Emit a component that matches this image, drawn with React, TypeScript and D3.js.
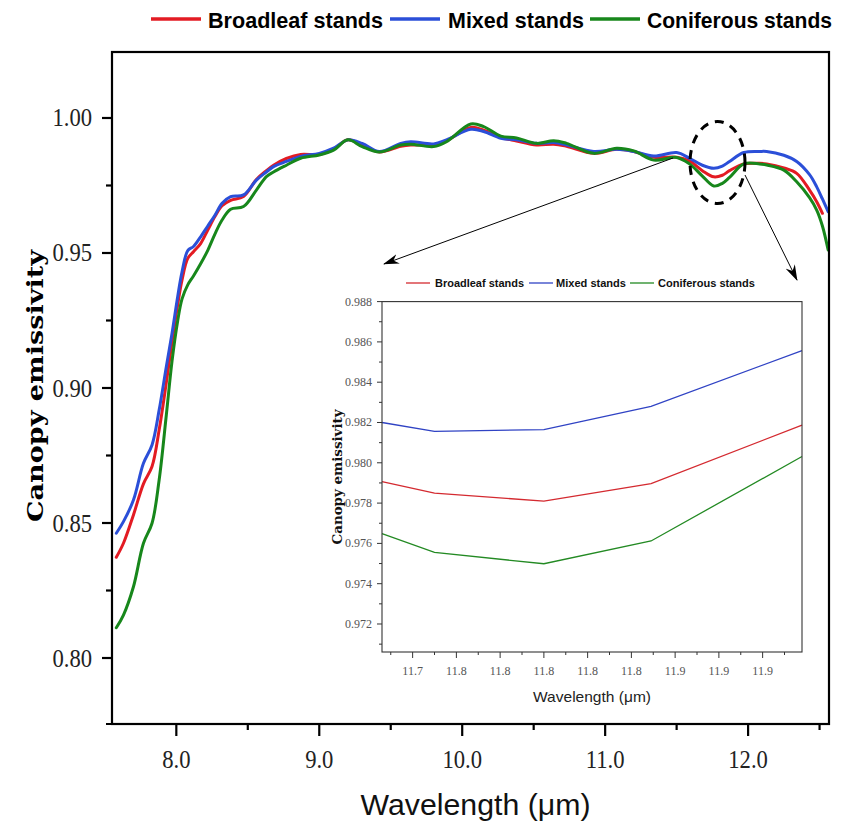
import React from "react";
import * as d3 from "d3";

// ---------- data ----------
const wavelength = [7.58, 7.63, 7.70, 7.77, 7.83, 7.88, 7.93, 7.97, 8.01, 8.04, 8.08, 8.12, 8.17, 8.22, 8.27, 8.32, 8.38, 8.47, 8.56, 8.63, 8.68, 8.77, 8.87, 9.00, 9.10, 9.20, 9.30, 9.42, 9.57, 9.64, 9.80, 9.89, 10.06, 10.15, 10.27, 10.38, 10.52, 10.64, 10.73, 10.92, 11.08, 11.20, 11.34, 11.50, 11.59, 11.68, 11.76, 11.82, 11.87, 11.97, 12.08, 12.13, 12.25, 12.34, 12.43, 12.48, 12.52, 12.56];
const mixed = [0.8462, 0.8505, 0.8585, 0.8721, 0.8789, 0.8919, 0.9079, 0.9203, 0.9340, 0.9430, 0.9509, 0.9524, 0.9560, 0.9600, 0.9640, 0.9684, 0.9709, 0.9715, 0.9770, 0.9800, 0.9820, 0.9839, 0.9858, 0.9869, 0.9888, 0.9919, 0.9906, 0.9876, 0.9906, 0.9912, 0.9904, 0.9919, 0.9958, 0.9950, 0.9925, 0.9919, 0.9906, 0.9909, 0.9900, 0.9876, 0.9884, 0.9876, 0.9859, 0.9872, 0.9851, 0.9825, 0.9814, 0.9822, 0.9839, 0.9872, 0.9876, 0.9876, 0.9862, 0.9839, 0.9790, 0.9745, 0.9700, 0.9653];
const broadleaf = [0.8373, 0.8425, 0.8530, 0.8645, 0.8709, 0.8845, 0.9020, 0.9170, 0.9310, 0.9400, 0.9480, 0.9505, 0.9535, 0.9585, 0.9635, 0.9675, 0.9695, 0.9709, 0.9772, 0.9805, 0.9825, 0.9850, 0.9865, 0.9865, 0.9885, 0.9919, 0.9900, 0.9874, 0.9895, 0.9900, 0.9900, 0.9915, 0.9965, 0.9955, 0.9928, 0.9915, 0.9900, 0.9903, 0.9895, 0.9869, 0.9884, 0.9876, 0.9855, 0.9855, 0.9841, 0.9805, 0.9782, 0.9788, 0.9805, 0.9830, 0.9832, 0.9830, 0.9815, 0.9795, 0.9733, 0.9690, 0.9647, null];
const coniferous = [0.8112, 0.8159, 0.8264, 0.8425, 0.8499, 0.8660, 0.8900, 0.9100, 0.9250, 0.9330, 0.9382, 0.9415, 0.9460, 0.9510, 0.9570, 0.9622, 0.9662, 0.9672, 0.9733, 0.9783, 0.9800, 0.9825, 0.9851, 0.9863, 0.9881, 0.9919, 0.9894, 0.9874, 0.9900, 0.9903, 0.9894, 0.9912, 0.9978, 0.9968, 0.9933, 0.9926, 0.9906, 0.9916, 0.9906, 0.9869, 0.9888, 0.9878, 0.9844, 0.9854, 0.9830, 0.9785, 0.9748, 0.9758, 0.9780, 0.9830, 0.9830, 0.9826, 0.9807, 0.9764, 0.9705, 0.9659, 0.9600, 0.9511];

const insetWavelength = [11.726, 11.750, 11.800, 11.849, 11.918];
const insetBroadleaf = [0.97907, 0.97849, 0.97810, 0.97897, 0.98187];
const insetMixed = [0.98200, 0.98156, 0.98165, 0.98280, 0.98557];
const insetConiferous = [0.97648, 0.97555, 0.97499, 0.97612, 0.98031];

const seriesNames = ["Broadleaf stands", "Mixed stands", "Coniferous stands"];
const seriesColors = ["#e31b23", "#2b4fd8", "#17871b"];
const insetColors = ["#d42a30", "#3043c4", "#238a23"];

const xTicks = [8, 9, 10, 11, 12];
const xTickLabels = ["8.0", "9.0", "10.0", "11.0", "12.0"];
const xMinorTicks = [8.5, 9.5, 10.5, 11.5, 12.5];
const yTicks = [0.8, 0.85, 0.9, 0.95, 1.0];
const yTickLabels = ["0.80", "0.85", "0.90", "0.95", "1.00"];
const yMinorTicks = [0.825, 0.875, 0.925, 0.975];

const insetXTicks = [11.74, 11.76, 11.78, 11.80, 11.82, 11.84, 11.86, 11.88, 11.90];
const insetXTickLabels = ["11.7", "11.8", "11.8", "11.8", "11.8", "11.8", "11.9", "11.9", "11.9"];
const insetXMinorTicks = [11.73, 11.75, 11.77, 11.79, 11.81, 11.83, 11.85, 11.87, 11.89, 11.91];
const insetYTicks = [0.972, 0.974, 0.976, 0.978, 0.98, 0.982, 0.984, 0.986, 0.988];
const insetYTickLabels = ["0.972", "0.974", "0.976", "0.978", "0.980", "0.982", "0.984", "0.986", "0.988"];
const insetYMinorTicks = [0.971, 0.973, 0.975, 0.977, 0.979, 0.981, 0.983, 0.985, 0.987];

// ---------- layout ----------
const W = 846, H = 832;
const M = { left: 112, right: 829, top: 52, bottom: 724 };
const I = { left: 382, right: 802, top: 301.6, bottom: 652 };

const SERIF = "'Liberation Serif', 'Times New Roman', serif";
const SANS = "'Liberation Sans', Arial, sans-serif";

export default function App() {
  const x = d3.scaleLinear().domain([7.55, 12.566]).range([M.left, M.right]);
  const y = d3.scaleLinear().domain([0.77556, 1.02444]).range([M.bottom, M.top]);
  const ix = d3.scaleLinear().domain([11.726, 11.918]).range([I.left, I.right]);
  const iy = d3.scaleLinear().domain([0.97061, 0.988]).range([I.bottom, I.top]);

  const mainSeries = [broadleaf, mixed, coniferous];
  const insetSeries = [insetBroadleaf, insetMixed, insetConiferous];

  const line = d3
    .line<number>()
    .defined((d) => d !== null)
    .x((_, i) => x(wavelength[i]))
    .y((d) => y(d as number))
    .curve(d3.curveCatmullRom.alpha(0.5));

  const iline = d3
    .line<number>()
    .x((_, i) => ix(insetWavelength[i]))
    .y((d) => iy(d));

  const legendItems = [
    { lx: 151, tx: 208, tl: 175 },
    { lx: 390, tx: 448, tl: 136 },
    { lx: 590, tx: 647, tl: 185 },
  ];
  const insetLegend = [
    { lx: 406, tx: 435, tl: 89 },
    { lx: 529, tx: 556, tl: 70 },
    { lx: 630, tx: 658, tl: 97 },
  ];

  return (
    <svg
      width={W}
      height={H}
      viewBox={`0 0 ${W} ${H}`}
      style={{ position: "absolute", left: 0, top: 0, background: "#fff" }}
    >
      <defs>
        <marker
          id="arrow"
          viewBox="0 0 16 10"
          refX="15"
          refY="5"
          markerWidth="16"
          markerHeight="10"
          markerUnits="userSpaceOnUse"
          orient="auto"
        >
          <path d="M0,0 L16,5 L0,10 L5,5 Z" fill="#000" />
        </marker>
      </defs>
      <rect x={0} y={0} width={W} height={H} fill="#fff" />

      {/* top legend */}
      {legendItems.map((it, i) => (
        <g key={i}>
          <line x1={it.lx} x2={it.lx + 50} y1={19} y2={19} stroke={seriesColors[i]} strokeWidth={3.5} />
          <text
            x={it.tx}
            y={27.5}
            fontFamily={SANS}
            fontWeight="bold"
            fontSize={22.5}
            textLength={it.tl}
            lengthAdjust="spacingAndGlyphs"
            fill="#000"
          >
            {seriesNames[i]}
          </text>
        </g>
      ))}

      {/* main curves */}
      <g fill="none" strokeWidth={3} strokeLinejoin="round" strokeLinecap="round">
        {mainSeries.map((s, k) => (
          <path key={k} d={line(s as any) || ""} stroke={seriesColors[k]} />
        ))}
      </g>

      {/* main frame */}
      <rect
        x={M.left}
        y={M.top}
        width={M.right - M.left}
        height={M.bottom - M.top}
        fill="none"
        stroke="#000"
        strokeWidth={2.2}
      />
      <line x1={106} x2={M.right} y1={M.bottom} y2={M.bottom} stroke="#000" strokeWidth={2.2} />

      {/* x axis ticks */}
      {xTicks.map((t, i) => (
        <g key={"xt" + i}>
          <line x1={x(t)} x2={x(t)} y1={M.bottom} y2={M.bottom + 12} stroke="#000" strokeWidth={2.2} />
          <text
            transform={`translate(${x(t)},768) scale(0.87,1)`}
            textAnchor="middle"
            fontFamily={SERIF}
            fontSize={26}
            fill="#222"
          >
            {xTickLabels[i]}
          </text>
        </g>
      ))}
      {xMinorTicks.map((t, i) => (
        <line key={"xm" + i} x1={x(t)} x2={x(t)} y1={M.bottom} y2={M.bottom + 6} stroke="#000" strokeWidth={2.2} />
      ))}

      {/* y axis ticks */}
      {yTicks.map((t, i) => (
        <g key={"yt" + i}>
          <line x1={M.left - 10} x2={M.left} y1={y(t)} y2={y(t)} stroke="#000" strokeWidth={2.2} />
          <text
            transform={`translate(92,${y(t) + 8.5}) scale(0.87,1)`}
            textAnchor="end"
            fontFamily={SERIF}
            fontSize={26}
            fill="#222"
          >
            {yTickLabels[i]}
          </text>
        </g>
      ))}
      {yMinorTicks.map((t, i) => (
        <line key={"ym" + i} x1={M.left - 6} x2={M.left} y1={y(t)} y2={y(t)} stroke="#000" strokeWidth={2.2} />
      ))}

      {/* axis titles */}
      <text
        x={(M.left + M.right) / 2 + 5}
        y={815}
        textAnchor="middle"
        fontFamily={SANS}
        fontSize={30}
        textLength={230}
        lengthAdjust="spacingAndGlyphs"
        fill="#111"
      >
        Wavelength (μm)
      </text>
      <text
        transform={`translate(43,386) rotate(-90)`}
        textAnchor="middle"
        fontFamily="'DejaVu Serif', serif"
        fontWeight="bold"
        fontSize={23}
        textLength={272}
        lengthAdjust="spacingAndGlyphs"
        fill="#000"
      >
        Canopy emissivity
      </text>

      {/* dashed ellipse and arrows */}
      <ellipse cx={717.5} cy={162.5} rx={27.5} ry={41} fill="none" stroke="#000" strokeWidth={3} strokeDasharray="9 7" />
      <line x1={673} y1={158} x2={384} y2={264} stroke="#000" strokeWidth={1} markerEnd="url(#arrow)" />
      <line x1={745} y1={175} x2={797} y2={280} stroke="#000" strokeWidth={1} markerEnd="url(#arrow)" />

      {/* inset legend */}
      {insetLegend.map((it, i) => (
        <g key={"il" + i}>
          <line x1={it.lx} x2={it.lx + 24} y1={283} y2={283} stroke={insetColors[i]} strokeWidth={1.3} />
          <text
            x={it.tx}
            y={287}
            fontFamily={SANS}
            fontWeight="bold"
            fontSize={11.5}
            textLength={it.tl}
            lengthAdjust="spacingAndGlyphs"
            fill="#111"
          >
            {seriesNames[i]}
          </text>
        </g>
      ))}

      {/* inset plot */}
      <rect x={I.left} y={I.top} width={I.right - I.left} height={I.bottom - I.top} fill="#fff" />
      <g fill="none" strokeWidth={1.3}>
        {insetSeries.map((s, k) => (
          <path key={"is" + k} d={iline(s) || ""} stroke={insetColors[k]} />
        ))}
      </g>
      <rect
        x={I.left}
        y={I.top}
        width={I.right - I.left}
        height={I.bottom - I.top}
        fill="none"
        stroke="#333"
        strokeWidth={1.1}
      />
      {insetXTicks.map((t, i) => (
        <g key={"ixt" + i}>
          <line x1={ix(t)} x2={ix(t)} y1={I.bottom} y2={I.bottom + 6} stroke="#333" strokeWidth={1} />
          <text x={ix(t)} y={675} textAnchor="middle" fontFamily={SERIF} fontSize={12} fill="#555">
            {insetXTickLabels[i]}
          </text>
        </g>
      ))}
      {insetXMinorTicks.map((t, i) => (
        <line key={"ixm" + i} x1={ix(t)} x2={ix(t)} y1={I.bottom} y2={I.bottom + 3} stroke="#333" strokeWidth={1} />
      ))}
      {insetYTicks.map((t, i) => (
        <g key={"iyt" + i}>
          <line x1={I.left - 5} x2={I.left} y1={iy(t)} y2={iy(t)} stroke="#333" strokeWidth={1} />
          <text x={372} y={iy(t) + 4} textAnchor="end" fontFamily={SERIF} fontSize={12} fill="#555">
            {insetYTickLabels[i]}
          </text>
        </g>
      ))}
      {insetYMinorTicks.map((t, i) => (
        <line key={"iym" + i} x1={I.left - 3} x2={I.left} y1={iy(t)} y2={iy(t)} stroke="#333" strokeWidth={1} />
      ))}
      <text
        x={592}
        y={702}
        textAnchor="middle"
        fontFamily={SANS}
        fontSize={15}
        textLength={118}
        lengthAdjust="spacingAndGlyphs"
        fill="#222"
      >
        Wavelength (μm)
      </text>
      <text
        transform={`translate(342,477) rotate(-90)`}
        textAnchor="middle"
        fontFamily="'DejaVu Serif', serif"
        fontWeight="bold"
        fontSize={12}
        textLength={135}
        lengthAdjust="spacingAndGlyphs"
        fill="#111"
      >
        Canopy emissivity
      </text>
    </svg>
  );
}
